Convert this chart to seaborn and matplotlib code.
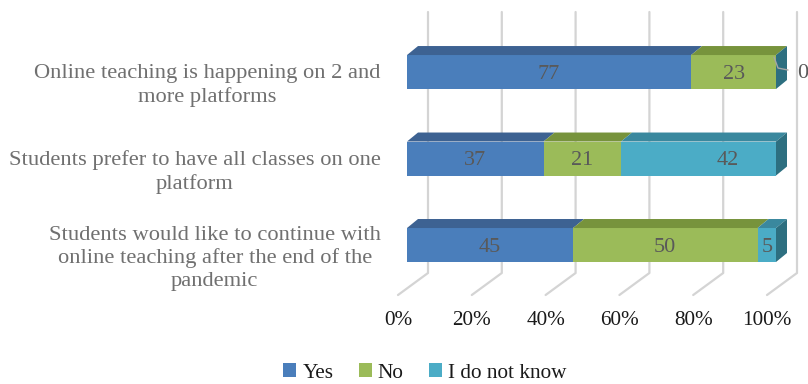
import matplotlib
matplotlib.use("Agg")
import matplotlib.pyplot as plt
import seaborn as sns
import pandas as pd
import numpy as np
from matplotlib.patches import Polygon, Patch
from matplotlib.lines import Line2D
from matplotlib.transforms import ScaledTranslation, IdentityTransform

# ---------------- data ----------------
categories = [
    "Online teaching is happening on 2 and\nmore platforms",
    "Students prefer to have all classes on one\nplatform",
    "Students would like to continue with\nonline teaching after the end of the\npandemic",
]
yes = [77, 37, 45]
no = [23, 21, 50]
idk = [0, 42, 5]
series_names = ["Yes", "No", "I do not know"]
x_ticks = [0, 20, 40, 60, 80, 100]
x_tick_labels = ["0%", "20%", "40%", "60%", "80%", "100%"]

# ---------------- style ----------------
front_colors = ["#4a7ebb", "#9bbb59", "#4bacc6"]
top_colors = ["#3d6292", "#77933c", "#3a889e"]
side_color = "#2d6f80"
grid_color = "#d4d4d4"
cat_color = "#707070"
val_color = "#595959"

sns.set_theme(style="white")
plt.rcParams["font.family"] = ["Liberation Serif", "DejaVu Serif"]

W, H, DPI = 808, 384, 100
fig = plt.figure(figsize=(W / DPI, H / DPI), dpi=DPI)
ax = fig.add_axes([407 / W, 89 / H, 369 / W, 283 / H])

bar_h = 0.393
df = pd.DataFrame({"cat": categories, "yes": yes, "no": no, "idk": idk})
df["c1"] = df["yes"]
df["c2"] = df["yes"] + df["no"]
df["c3"] = df["yes"] + df["no"] + df["idk"]

for col, c in [("c3", front_colors[2]), ("c2", front_colors[1]), ("c1", front_colors[0])]:
    sns.barplot(data=df, y="cat", x=col, color=c, saturation=1, width=bar_h,
                linewidth=0, ax=ax, zorder=3, errorbar=None)

ax.set_xlim(0, 100)
ax.set_ylim(2.578, -0.694)
ax.set_xlabel("")
ax.set_ylabel("")
for s in ax.spines.values():
    s.set_visible(False)
ax.tick_params(length=0)

# x tick labels (at front floor edge)
ax.set_xticks(x_ticks)
ax.set_xticklabels(x_tick_labels, fontsize=15.3, color="#1a1a1a")
ax.tick_params(axis="x", pad=11.5)
for lab in ax.get_xticklabels():
    lab.set_transform(lab.get_transform() + ScaledTranslation(-9 / DPI, 0, fig.dpi_scale_trans))

# y tick labels
ax.set_yticks(range(len(categories)))
ax.set_yticklabels(categories, fontsize=16.2, color=cat_color, linespacing=1.25)
ax.tick_params(axis="y", pad=19)
for lab in ax.get_yticklabels():
    lab.set_multialignment("center")
    lab.set_transform(lab.get_transform() + ScaledTranslation(0, -9 / DPI, fig.dpi_scale_trans))

ident = IdentityTransform()
fig.canvas.draw()

# 3D back-wall gridlines + floor diagonals
back_dx = 21
wall_top = H - 12
wall_bot = H - 273
floor_front = H - 295
for v in x_ticks:
    fx = ax.transData.transform((v, 0))[0]
    ln = Line2D([fx + back_dx, fx + back_dx, fx - 9], [wall_top, wall_bot, floor_front],
                color=grid_color, lw=1.6, transform=ident, clip_on=False, zorder=1)
    ax.add_line(ln)

# 3D faces of bars
dx, dy = 11, 9
series = [yes, no, idk]
for i in range(len(categories)):
    start = 0
    ytop = ax.transData.transform((0, i - bar_h / 2))[1]
    ybot = ax.transData.transform((0, i + bar_h / 2))[1]
    for j, vals in enumerate(series):
        v = vals[i]
        if v > 0:
            x0 = ax.transData.transform((start, 0))[0]
            x1 = ax.transData.transform((start + v, 0))[0]
            ax.add_patch(Polygon([(x0, ytop), (x1, ytop), (x1 + dx, ytop + dy), (x0 + dx, ytop + dy)],
                                 closed=True, facecolor=top_colors[j], edgecolor="none",
                                 transform=ident, clip_on=False, zorder=3))
        start += v
    xe = ax.transData.transform((start, 0))[0]
    ax.add_patch(Polygon([(xe, ybot), (xe, ytop), (xe + dx, ytop + dy), (xe + dx, ybot + dy)],
                         closed=True, facecolor=side_color, edgecolor="none",
                         transform=ident, clip_on=False, zorder=3))

# value labels
label_dx = {(1, 2): 29}
for i in range(len(categories)):
    start = 0
    for j, vals in enumerate(series):
        v = vals[i]
        if v > 0:
            ax.text(start + v / 2, i, f"{v}", ha="center", va="center", fontsize=16,
                    color=val_color, zorder=5,
                    transform=ax.transData + ScaledTranslation(label_dx.get((i, j), 0) / DPI, -2 / DPI,
                                                               fig.dpi_scale_trans))
        else:
            xe, yc = ax.transData.transform((start, i))
            ax.add_line(Line2D([xe - 2, xe + 2, xe + 12], [yc + 15, yc + 4, yc + 2],
                               color="#a6a6a6", lw=1.0, transform=ident, clip_on=False, zorder=4))
            ax.text(xe + 21, yc - 1, f"{v}", ha="left", va="center", fontsize=16,
                    color=val_color, transform=ident, zorder=5)
        start += v

# legend
handles = [Patch(facecolor=c, edgecolor="none", label=n) for c, n in zip(front_colors, series_names)]
fig.legend(handles=handles, loc="center", bbox_to_anchor=(425 / W, 11 / H), ncol=3, frameon=False,
           fontsize=15.3, handlelength=0.6, handleheight=0.6, handletextpad=0.3, columnspacing=1.2,
           labelcolor="#1a1a1a")

fig.savefig("out.png", dpi=DPI)
